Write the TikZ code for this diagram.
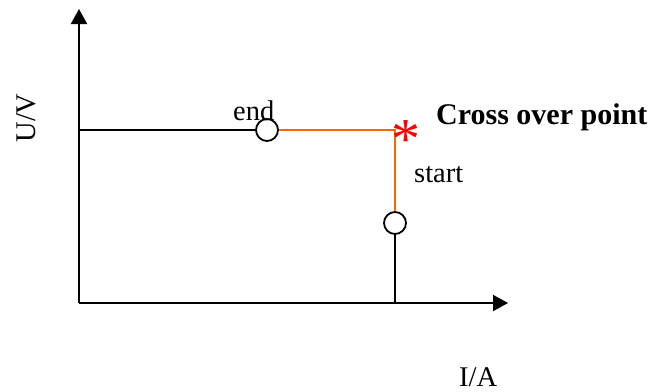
\documentclass[tikz,border=0pt]{standalone}
\usepackage{fontspec}
\setmainfont{Liberation Serif}
\usetikzlibrary{arrows.meta}
\definecolor{orangeline}{RGB}{255,102,0}
\definecolor{starred}{RGB}{255,0,0}
\begin{document}
\begin{tikzpicture}[x=1pt,y=-1pt,
  axis/.style={line width=2pt,-{Triangle[length=15pt,width=16pt]}},
  blackline/.style={line width=1.8pt,black},
  orangeseg/.style={line width=2pt,orangeline},
  ring/.style={circle,draw=black,line width=1.8pt,fill=white,minimum size=22pt,inner sep=0pt},
  lbl/.style={inner sep=0pt,anchor=base west,font=\fontsize{28.5}{30}\selectfont},
  boldlbl/.style={inner sep=0pt,anchor=base west,font=\fontsize{30}{32}\selectfont\bfseries}]
\useasboundingbox (0,0) rectangle (652,391);
\coordinate (O) at (79,303);
\coordinate (ytop) at (79,9);
\coordinate (xend) at (508,303);
\coordinate (yleft) at (79,130);
\coordinate (corner) at (395,130);
\coordinate (xfoot) at (395,303);
\node[ring] (endc) at (267,130) {};
\node[ring] (startc) at (395,223) {};
\draw[blackline] (yleft) -- (endc.west);
\draw[orangeseg] (endc.east) -- (corner) -- (startc.north);
\draw[blackline] (startc.south) -- (xfoot);
\draw[axis] (O) -- (ytop);
\draw[axis] (O) -- (xend);
\node[inner sep=0pt,anchor=base,text=starred,font=\fontsize{58}{60}\selectfont] (star) at (406,158) {*};
\node[lbl] (endl) at (233,120) {end};
\node[lbl] (startl) at (414,182) {start};
\node[boldlbl] (cross) at (436,124) {Cross over point};
\node[lbl,rotate=90,anchor=base] (uv) at (35,118) {U/V};
\node[lbl] (ia) at (459,386) {I/A};
\end{tikzpicture}
\end{document}
